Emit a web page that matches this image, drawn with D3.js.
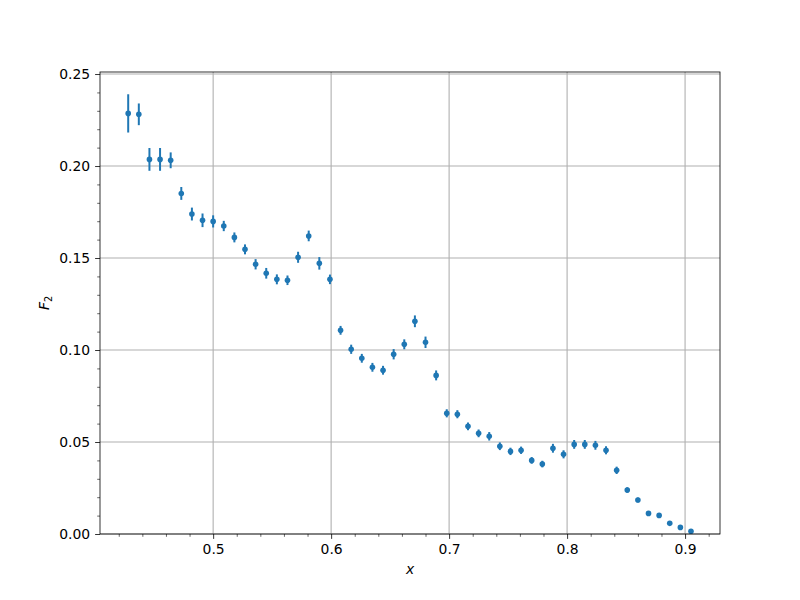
<!DOCTYPE html>
<html><head><meta charset="utf-8">
<script src="https://cdn.jsdelivr.net/npm/d3@7"></script>
<style>body{margin:0;background:#fff}svg{display:block}text{font-family:"DejaVu Sans",sans-serif}</style>
</head><body>
<svg id="c" width="800" height="600"></svg>
<script>
const xVals = [0.428,0.437,0.446,0.455,0.464,0.473,0.482,0.491,0.500,0.509,0.518,0.527,0.536,0.545,0.554,0.563,0.572,0.581,0.590,0.599,0.608,0.617,0.626,0.635,0.644,0.653,0.662,0.671,0.680,0.689,0.698,0.707,0.716,0.725,0.734,0.743,0.752,0.761,0.770,0.779,0.788,0.797,0.806,0.815,0.824,0.833,0.842,0.851,0.860,0.869,0.878,0.887,0.896,0.905];
const f2Vals = [0.2286,0.2281,0.2036,0.2036,0.2031,0.1851,0.1739,0.1705,0.1699,0.1674,0.1612,0.1547,0.1466,0.1417,0.1384,0.1379,0.1504,0.1620,0.1471,0.1384,0.1107,0.1004,0.0955,0.0906,0.0890,0.0977,0.1031,0.1156,0.1042,0.0862,0.0656,0.0651,0.0585,0.0547,0.0531,0.0477,0.0449,0.0455,0.0400,0.0380,0.0466,0.0433,0.0487,0.0487,0.0482,0.0455,0.0346,0.0239,0.0185,0.0112,0.0101,0.0058,0.0036,0.0015];
const errVals = [0.0104,0.0059,0.0062,0.0062,0.0043,0.0035,0.0035,0.0037,0.0033,0.0028,0.0027,0.0027,0.0028,0.0029,0.0027,0.0026,0.0030,0.0029,0.0034,0.0026,0.0024,0.0025,0.0024,0.0024,0.0024,0.0028,0.0027,0.0032,0.0031,0.0027,0.0022,0.0022,0.0021,0.0021,0.0023,0.0021,0.0020,0.0020,0.0018,0.0018,0.0024,0.0022,0.0024,0.0024,0.0024,0.0022,0.0020,0.0015,0.0013,0.0008,0.0008,0.0006,0.0005,0.0004];
const xTicks = [0.5,0.6,0.7,0.8,0.9];
const yTicks = [0,0.05,0.10,0.15,0.20,0.25];

const L=100,R=720,T=72,B=534;
const svg=d3.select("#c");
const x=d3.scaleLinear().domain([0.4041,0.9296]).range([L,R]);
const y=d3.scaleLinear().domain([0,0.2511]).range([B,T]);
const color="#1f77b4";

// grid
const g=svg.append("g");
g.selectAll(".gx").data(xTicks).join("line").attr("x1",d=>x(d)).attr("x2",d=>x(d)).attr("y1",T).attr("y2",B).attr("stroke","#b0b0b0").attr("stroke-width",1.1);
g.selectAll(".gy").data(yTicks).join("line").attr("y1",d=>y(d)).attr("y2",d=>y(d)).attr("x1",L).attr("x2",R).attr("stroke","#b0b0b0").attr("stroke-width",1.1);

// data
const data=xVals.map((v,i)=>({x:v,y:f2Vals[i],e:errVals[i]}));
const dg=svg.append("g");
dg.selectAll("line").data(data).join("line").attr("x1",d=>x(d.x)).attr("x2",d=>x(d.x)).attr("y1",d=>y(d.y-d.e)).attr("y2",d=>y(d.y+d.e)).attr("stroke",color).attr("stroke-width",2);
dg.selectAll("circle").data(data).join("circle").attr("cx",d=>x(d.x)).attr("cy",d=>y(d.y)).attr("r",2.8).attr("fill",color);

// axes
const xMinor=d3.range(0.42,0.93,0.02).filter(v=>Math.abs(v*10-Math.round(v*10))>1e-6);
const yMinor=d3.range(0.01,0.251,0.01).filter(v=>Math.abs(v*20-Math.round(v*20))>1e-6);
const xa=svg.append("g").attr("transform",`translate(0,${B})`).call(d3.axisBottom(x).tickValues(xTicks).tickFormat(d3.format(".1f")).tickSize(4.9).tickPadding(4.9));
const xm=svg.append("g").attr("transform",`translate(0,${B})`).call(d3.axisBottom(x).tickValues(xMinor).tickFormat("").tickSize(2.8));
const ya=svg.append("g").attr("transform",`translate(${L},0)`).call(d3.axisLeft(y).tickValues(yTicks).tickFormat(d3.format(".2f")).tickSize(4.9).tickPadding(4.9));
const ym=svg.append("g").attr("transform",`translate(${L},0)`).call(d3.axisLeft(y).tickValues(yMinor).tickFormat("").tickSize(2.8));
[xa,xm,ya,ym].forEach(a=>{a.select(".domain").remove();a.selectAll("line").attr("stroke","#000").attr("stroke-width",0.8);a.selectAll("text").attr("font-size","13.9px").attr("fill","#000").attr("font-family","DejaVu Sans");});
xm.selectAll("line").attr("stroke-width",0.6);ym.selectAll("line").attr("stroke-width",0.6);

svg.append("rect").attr("x",L).attr("y",T).attr("width",R-L).attr("height",B-T).attr("fill","none").attr("stroke","#000").attr("stroke-width",0.8);

svg.append("text").attr("x",(L+R)/2).attr("y",574).attr("text-anchor","middle").attr("font-size","13.9px").attr("font-style","italic").text("x");
const yl=svg.append("text").attr("transform",`translate(49,${(T+B)/2}) rotate(-90)`).attr("text-anchor","middle").attr("font-size","13.9px");
yl.append("tspan").attr("font-style","italic").text("F");
yl.append("tspan").attr("font-size","9.7px").attr("dy","3").text("2");
</script>
</body></html>
